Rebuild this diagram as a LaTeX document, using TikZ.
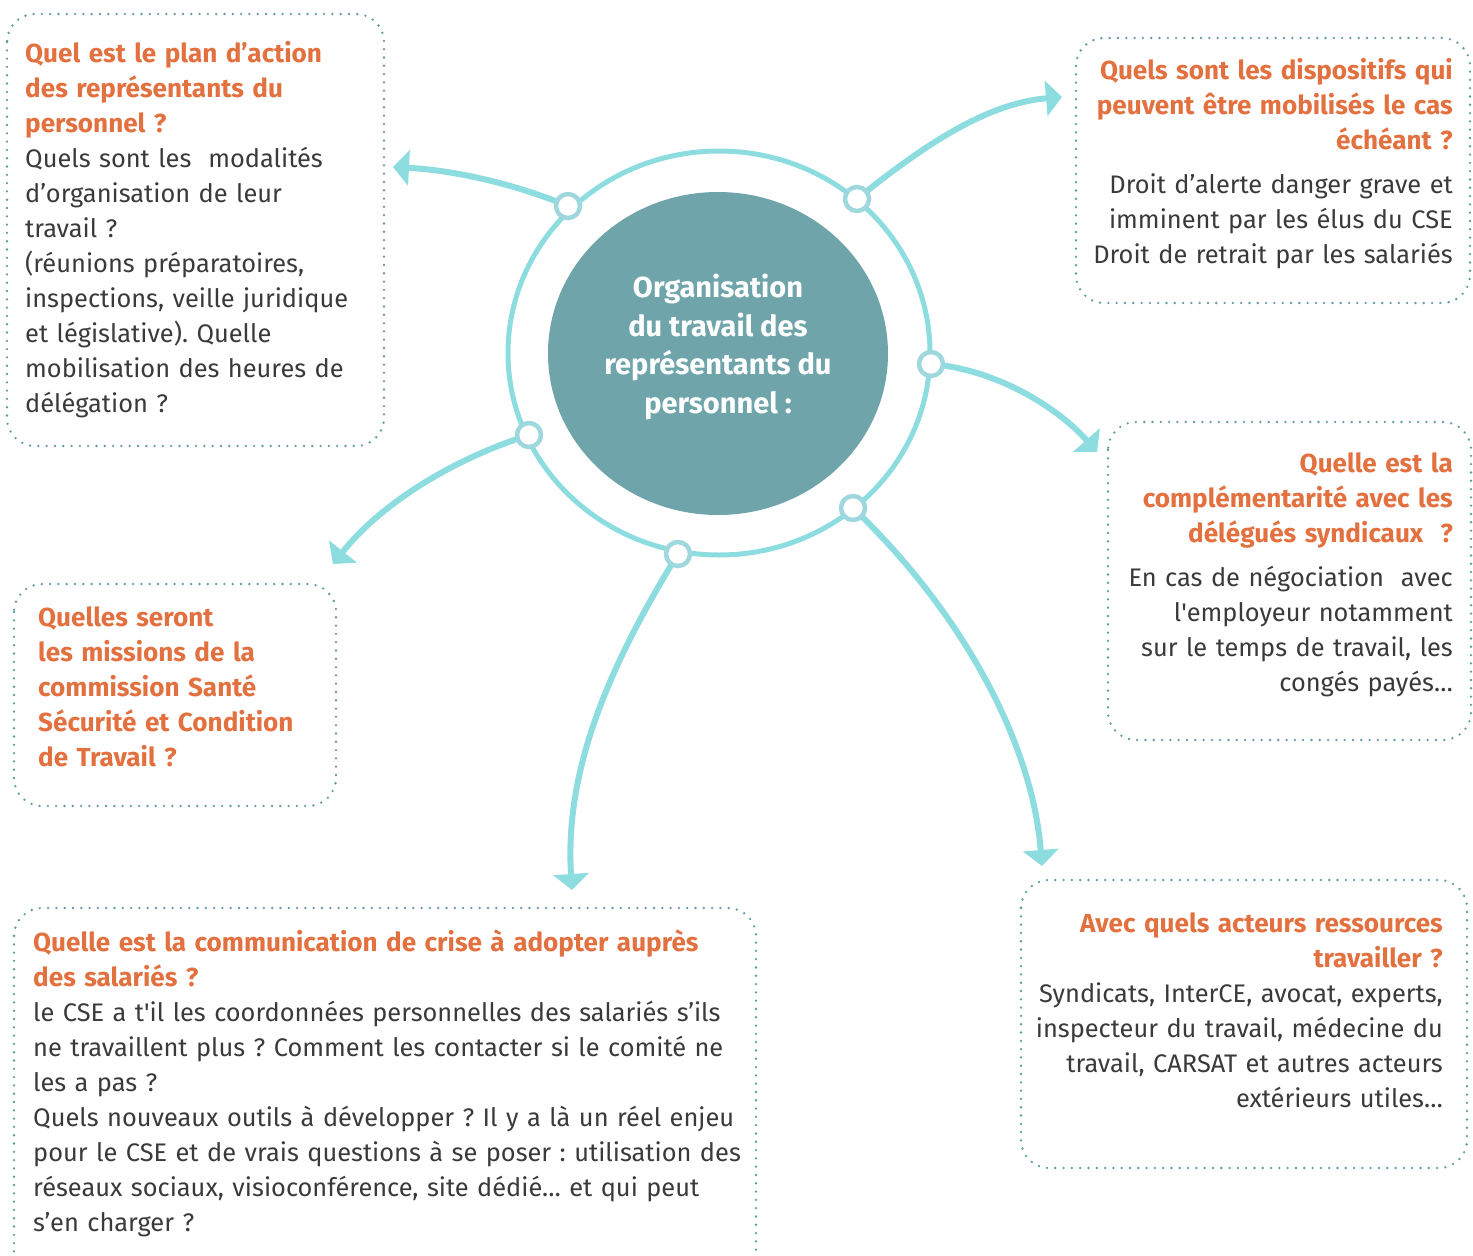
\documentclass[tikz,border=0pt]{standalone}
\usepackage{fontspec}
\setmainfont{Fira Sans}
\usetikzlibrary{arrows.meta}
\frenchspacing
\hyphenpenalty=10000
\exhyphenpenalty=10000

\definecolor{ringc}{HTML}{8CDCE0}
\definecolor{portc}{HTML}{9ED8DE}
\definecolor{corec}{HTML}{6FA5AA}
\definecolor{headc}{HTML}{E3703F}
\definecolor{bodyc}{HTML}{3A3A3A}
\definecolor{dotc}{HTML}{5E9CA2}

\tikzset{
  dotbox/.style={draw=dotc, line width=2.6pt, line cap=round,
    dash pattern=on 0pt off 8.3pt, rounded corners=28pt},
  flow/.style={draw=ringc, line width=6pt,
    -{Triangle[length=16pt,width=35pt]}},
  port/.style={circle, draw=portc, fill=white, line width=4.5pt,
    minimum size=24pt, inner sep=0pt},
  txt/.style={inner sep=0pt, text=bodyc,
    font=\fontsize{25.4}{35}\selectfont},
}
\newcommand{\hdon}{\color{headc}\fontsize{26.1}{35}\selectfont\bfseries}
\newcommand{\bdon}{\color{bodyc}\fontsize{25.4}{35}\selectfont\mdseries}

\begin{document}
\begin{tikzpicture}[x=1pt,y=-1pt]
\useasboundingbox (0,0) rectangle (1473,1256);
\clip (0,0) rectangle (1473,1256);

% dotted frames
\draw[dotbox] (7,14) rectangle (384,446);
\draw[dotbox] (1076,38) rectangle (1470,303);
\draw[dotbox] (1108,422) rectangle (1471,740);
\draw[dotbox] (14,584) rectangle (336,806);
\draw[dotbox] (14,908) rectangle (756,1290);
\draw[dotbox] (1021,880) rectangle (1467,1168);

% hub: ring and core
\draw[ringc, line width=5pt] (719,353) ellipse [x radius=211pt, y radius=202pt];
\fill[corec] (718,353.5) ellipse [x radius=170pt, y radius=161.5pt];
\node[align=center, text=white, inner sep=0pt,
  font=\fontsize{29}{38.5}\selectfont\bfseries] (core) at (718,347)
  {Organisation\\du travail des\\représentants du\\personnel :};

% ports on the ring
\coordinate (c1) at (568,206);
\coordinate (c2) at (857,199);
\coordinate (c3) at (931,364);
\coordinate (c4) at (853,508);
\coordinate (c5) at (678,554);
\coordinate (c6) at (529,435);

% arrow ends
\coordinate (e1) at (393,167);
\coordinate (e2) at (1062,97);
\coordinate (e3) at (1097,452);
\coordinate (e4) at (1042,866);
\coordinate (e5) at (572,890);
\coordinate (e6) at (333,564);

\draw[flow] (c1) .. controls (510,182) and (450,170) .. (e1);
\draw[flow] (c2) .. controls (930,140) and (990,103) .. (e2);
\draw[flow] (c3) .. controls (1000,370) and (1060,410) .. (e3);
\draw[flow] (c4) .. controls (960,610) and (1032,740) .. (e4);
\draw[flow] (c5) .. controls (600,680) and (565,780) .. (e5);
\draw[flow] (c6) .. controls (450,460) and (380,505) .. (e6);

\foreach \i in {1,...,6} \node[port] (p\i) at (c\i) {};

% text blocks
\node[txt, anchor=north west, align=left, text width=355pt] (t1) at (25,41)
  {\hdon Quel est le plan d’action\\des représentants du\\personnel ?\\
   \bdon Quels sont les\ \ modalités\\d’organisation de leur\\travail ?\\
   (réunions préparatoires,\\inspections, veille juridique\\
   et législative). Quelle\\mobilisation des heures de\\délégation ?};

\node[txt, anchor=north east, align=right, text width=370pt] (t2) at (1453,58)
  {\hdon Quels sont les dispositifs qui\\peuvent être mobilisés le cas\\échéant ?\\[9pt]
   \bdon Droit d’alerte danger grave et\\imminent par les élus du CSE\\
   Droit de retrait par les salariés};

\node[txt, anchor=north east, align=right, text width=340pt] (t3) at (1453,452)
  {\hdon Quelle est la\\complémentarité avec les\\délégués syndicaux\ \ ?\\[9pt]
   \bdon En cas de négociation\ \ avec\\l\textquotesingle employeur notamment\\
   sur le temps de travail, les\\congés payés…};

\node[txt, anchor=north west, align=left, text width=290pt] (t4) at (38,606)
  {\hdon Quelles seront\\les missions de la\\commission Santé\\
   Sécurité et Condition\\de Travail ?};

\node[txt, anchor=north west, align=left, text width=760pt] (t5) at (33,929)
  {\hdon Quelle est la communication de crise à adopter auprès\\des salariés ?\\
   \bdon le CSE a t\textquotesingle il les coordonnées personnelles des salariés s’ils\\
   ne travaillent plus ? Comment les contacter si le comité ne\\les a pas ?\\
   Quels nouveaux outils à développer ? Il y a là un réel enjeu\\
   pour le CSE et de vrais questions à se poser : utilisation des\\
   réseaux sociaux, visioconférence, site dédié… et qui peut\\
   s’en charger ?};

\node[txt, anchor=north east, align=right, text width=420pt] (t6) at (1443,912)
  {\hdon Avec quels acteurs ressources\\travailler ?\\
   \bdon Syndicats, InterCE, avocat, experts,\\inspecteur du travail, médecine du\\
   travail, CARSAT et autres acteurs\\extérieurs utiles…};
\end{tikzpicture}
\end{document}
